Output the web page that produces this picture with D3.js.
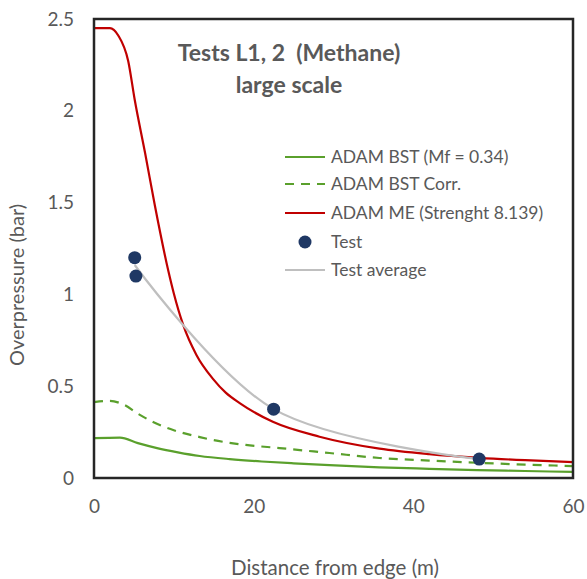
<!DOCTYPE html>
<html><head><meta charset="utf-8">
<script src="https://cdn.jsdelivr.net/npm/d3@7"></script>
<style>body{margin:0;background:#fff}svg{display:block}text{font-family:Lato,"Open Sans",sans-serif;fill:#595959;white-space:pre}</style>
</head><body><svg id="c" width="587" height="579"></svg>
<script>
const xTicks=[0,20,40,60];
const yTicks=[0,0.5,1,1.5,2,2.5];
const meX=[0,2,3.04,4.29,5.1,6.4,7.6,9.3,10,11.16,12.83,14.9,16.5,18.25,22.4,28.25,35.75,42,48.25,54,60];
const meY=[2.45,2.45,2.41,2.27,2.06,1.77,1.49,1.13,1.005,0.835,0.67,0.54,0.465,0.408,0.306,0.225,0.16,0.13,0.11,0.097,0.087];
const bstX=[0,3.25,5.5,7.9,10.5,13.25,17,21,25,29.5,35.75,42,48,54,60];
const bstY=[0.217,0.22,0.19,0.163,0.14,0.12,0.103,0.09,0.08,0.07,0.058,0.05,0.043,0.038,0.033];
const corrX=[0,2,3.7,5.5,7.4,10,13.25,14.9,19,23.25,29.5,35.75,42,48,54,60];
const corrY=[0.413,0.42,0.40,0.35,0.305,0.26,0.223,0.207,0.18,0.163,0.136,0.109,0.095,0.083,0.073,0.065];
const testX=[5.1,5.25,22.5,48.25];
const testY=[1.20,1.10,0.375,0.103];
const avgX=[5.1,22.5,48.25];
const avgY=[1.16,0.375,0.103];
const legendLabels=["ADAM BST (Mf = 0.34)","ADAM BST Corr.","ADAM ME (Strenght 8.139)","Test","Test average"];

const svg=d3.select("#c");
const L=94,R=573,T=19,B=478;
const x=d3.scaleLinear().domain([0,60]).range([L,R]);
const y=d3.scaleLinear().domain([0,2.5]).range([B,T]);

const gx=svg.append("g").attr("transform",`translate(0,${B})`)
  .call(d3.axisBottom(x).tickValues(xTicks).tickSize(0).tickPadding(22).tickFormat(d3.format("d")));
gx.select(".domain").remove();
gx.selectAll("text").style("font-size","19px").attr("fill","#595959");
const gy=svg.append("g").attr("transform",`translate(${L},0)`)
  .call(d3.axisLeft(y).tickValues(yTicks).tickSize(0).tickPadding(20).tickFormat(d=>String(d)));
gy.select(".domain").remove();
gy.selectAll("text").style("font-size","19px").attr("fill","#595959");

const line=(xs,ys,curve)=>d3.line().x((d,i)=>x(xs[i])).y((d,i)=>y(ys[i])).curve(curve)(xs);
const g=svg.append("g");
g.append("path").attr("d",line(bstX,bstY,d3.curveMonotoneX)).attr("fill","none").attr("stroke","#5aa02c").attr("stroke-width",2.2);
g.append("path").attr("d",line(corrX,corrY,d3.curveMonotoneX)).attr("fill","none").attr("stroke","#5aa02c").attr("stroke-width",2.2).attr("stroke-dasharray","9,7");
g.append("path").attr("d",line(meX,meY,d3.curveMonotoneX)).attr("fill","none").attr("stroke","#c00000").attr("stroke-width",2.2);
g.append("path").attr("d",line(avgX,avgY,d3.curveCatmullRom.alpha(0.5))).attr("fill","none").attr("stroke","#bfbfbf").attr("stroke-width",2.2);
g.selectAll("circle.t").data(testX).join("circle").attr("class","t")
  .attr("cx",(d,i)=>x(d)).attr("cy",(d,i)=>y(testY[i])).attr("r",6.5).attr("fill","#1f3864");

svg.append("rect").attr("x",L).attr("y",T).attr("width",R-L).attr("height",B-T)
  .attr("fill","none").attr("stroke","#262626").attr("stroke-width",2.5);

svg.append("text").attr("x",289).attr("y",61).attr("text-anchor","middle").style("font-size","23px").style("font-weight","bold").text("Tests L1, 2  (Methane)");
svg.append("text").attr("x",289).attr("y",93).attr("text-anchor","middle").style("font-size","23px").style("font-weight","bold").text("large scale");

const legY=[157,184,213,242,270];
const styles=[{c:"#5aa02c",d:null},{c:"#5aa02c",d:"9,7"},{c:"#c00000",d:null},{dot:true},{c:"#bfbfbf",d:null}];
const lg=svg.append("g");
legendLabels.forEach((t,i)=>{
  const s=styles[i];
  if(s.dot){lg.append("circle").attr("cx",305).attr("cy",legY[i]).attr("r",6.5).attr("fill","#1f3864");}
  else{lg.append("line").attr("x1",285).attr("x2",325).attr("y1",legY[i]).attr("y2",legY[i]).attr("stroke",s.c).attr("stroke-width",2.2).attr("stroke-dasharray",s.d);}
  lg.append("text").attr("x",331).attr("y",legY[i]).attr("dy","0.35em").style("font-size","17.5px").text(t);
});

svg.append("text").attr("x",335).attr("y",575).attr("text-anchor","middle").style("font-size","20.5px").text("Distance from edge (m)");
svg.append("text").attr("transform","translate(24,285) rotate(-90)").attr("text-anchor","middle").style("font-size","20px").text("Overpressure (bar)");
</script></body></html>
